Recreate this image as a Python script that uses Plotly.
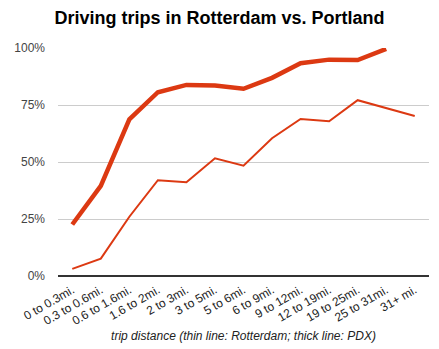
import plotly.graph_objects as go

categories = ["0 to 0.3mi.", "0.3 to 0.6mi.", "0.6 to 1.6mi.", "1.6 to 2mi.", "2 to 3mi.",
              "3 to 5mi.", "5 to 6mi.", "6 to 9mi.", "9 to 12mi.", "12 to 19mi.",
              "19 to 25mi.", "25 to 31mi.", "31+ mi."]
rotterdam = [0.031, 0.076, 0.26, 0.42, 0.411, 0.516, 0.484, 0.604, 0.689, 0.679, 0.771, 0.735, 0.702]
pdx = [0.226, 0.395, 0.687, 0.806, 0.838, 0.835, 0.821, 0.869, 0.933, 0.949, 0.947, 0.996, None]
y_ticks = [0, 0.25, 0.5, 0.75, 1.0]
y_labels = ["0%", "25%", "50%", "75%", "100%"]

red = "#dc3912"
fig = go.Figure()
fig.add_trace(go.Scatter(x=categories, y=rotterdam, mode="lines",
                         line=dict(color=red, width=2), name="Rotterdam"))
fig.add_trace(go.Scatter(x=categories, y=pdx, mode="lines",
                         line=dict(color=red, width=4.5), name="PDX"))

fig.update_layout(
    width=439, height=349,
    margin=dict(l=58, r=10, t=48, b=73),
    paper_bgcolor="white", plot_bgcolor="white",
    showlegend=False,
    font=dict(family="Liberation Sans, Arial, sans-serif", color="#444444", size=12),
    title=dict(text="<b>Driving trips in Rotterdam vs. Portland</b>",
               x=0.5, xanchor="center", y=1 - 18 / 349, yanchor="middle",
               font=dict(size=18, color="#000000")),
    xaxis=dict(
        type="category", tickangle=-30, tickfont=dict(size=12, color="#222222"),
        showgrid=False, ticks="", showline=False, zeroline=False,
        ticklabelstandoff=4,
        range=[-0.5, len(categories) - 0.5],
        title=dict(text="<i>trip distance (thin line: Rotterdam; thick line: PDX)</i>",
                   font=dict(size=12, color="#222222"), standoff=4),
    ),
    yaxis=dict(
        range=[0, 1], tickvals=y_ticks, ticktext=y_labels,
        showgrid=True, gridcolor="#cccccc", gridwidth=1,
        zeroline=True, zerolinecolor="#333333", zerolinewidth=1.5,
        ticks="", ticklabelstandoff=12, tickfont=dict(size=12, color="#444444"),
    ),
)

fig.write_html("out.html")
